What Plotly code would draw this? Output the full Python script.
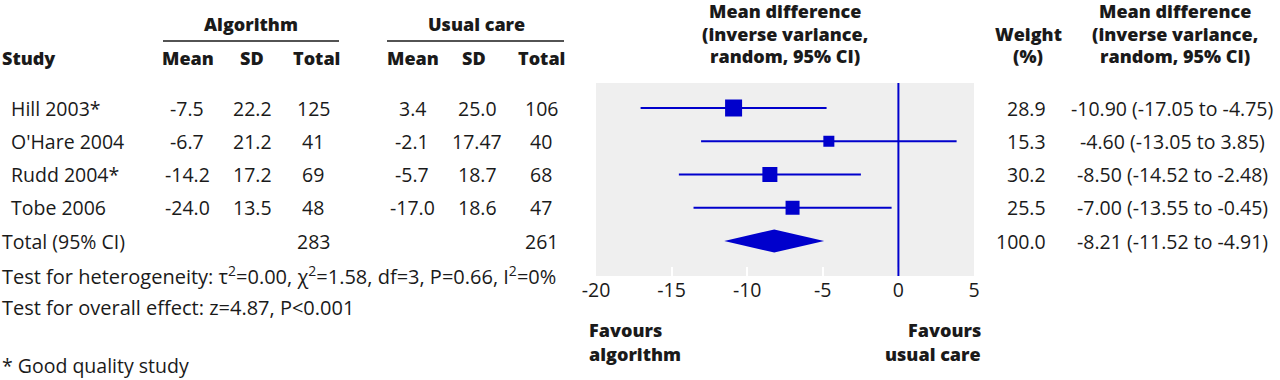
import plotly.graph_objects as go

# ---------------- data ----------------
studies = ["Hill 2003*", "O'Hare 2004", "Rudd 2004*", "Tobe 2006"]
alg_mean = ["-7.5", "-6.7", "-14.2", "-24.0"]
alg_sd = ["22.2", "21.2", "17.2", "13.5"]
alg_n = [125, 41, 69, 48]
uc_mean = ["3.4", "-2.1", "-5.7", "-17.0"]
uc_sd = ["25.0", "17.47", "18.7", "18.6"]
uc_n = [106, 40, 68, 47]
total_label = "Total (95% CI)"
alg_total_n = 283
uc_total_n = 261

md = [-10.90, -4.60, -8.50, -7.00]
ci_lo = [-17.05, -13.05, -14.52, -13.55]
ci_hi = [-4.75, 3.85, -2.48, -0.45]
weights = [28.9, 15.3, 30.2, 25.5]
total_md = -8.21
total_lo = -11.52
total_hi = -4.91
total_weight = 100.0

x_ticks = [-20, -15, -10, -5, 0, 5]

# ---------------- style ----------------
W, H = 1280, 380
BLUE = "#0000cc"
TXT = "#1a1a1a"
FONT = "Open Sans"
FS = 19.5
FSB = 18
square_px = [17, 11, 15, 14]   # marker sizes as drawn in the reference
ROW0, ROWH = 108, 33.25        # pixel y of first row, row spacing
PLOT_L, PLOT_R, PLOT_T, PLOT_B = 596, 974, 83, 276


def px_x(p):
    return p / W


def px_y(p):
    return 1 - p / H


y_top = (PLOT_T - ROW0) / ROWH
y_bot = (PLOT_B - ROW0) / ROWH

fig = go.Figure()

rows = list(range(len(studies)))
fig.add_trace(go.Scatter(
    x=md, y=rows, mode="markers",
    marker=dict(symbol="square", size=square_px, color=BLUE, opacity=1,
                line=dict(width=0)),
    error_x=dict(type="data", symmetric=False,
                 array=[h - m for h, m in zip(ci_hi, md)],
                 arrayminus=[m - l for m, l in zip(md, ci_lo)],
                 color=BLUE, thickness=2, width=0),
    hoverinfo="skip", showlegend=False,
))

tot_row = len(studies)
half_h = 11.5 / ROWH
fig.add_trace(go.Scatter(
    x=[total_lo, total_md, total_hi, total_md, total_lo],
    y=[tot_row, tot_row - half_h, tot_row, tot_row + half_h, tot_row],
    mode="lines", fill="toself", fillcolor=BLUE, line=dict(width=0, color=BLUE),
    hoverinfo="skip", showlegend=False,
))

fig.add_shape(type="line", x0=0, x1=0, xref="x", yref="y domain", y0=0, y1=1,
              line=dict(color=BLUE, width=2))

ann = []


def add(text, x, y, xanchor="left", bold=False, yref="paper", size=None):
    ann.append(dict(
        text=text, x=px_x(x), y=(px_y(y) if yref == "paper" else y),
        xref="paper", yref=yref, xanchor=xanchor, yanchor="middle",
        showarrow=False, align=xanchor if xanchor != "center" else "center",
        font=dict(family=FONT, size=size or (FSB if bold else FS), color=TXT,
                  weight=800 if bold else 400),
    ))


# headers
add("Algorithm", 251, 24, "center", True)
add("Usual care", 476, 24, "center", True)
add("Study", 0, 58, "left", True)
for lbl, cx in [("Mean", 188), ("SD", 252), ("Total", 316),
                ("Mean", 413), ("SD", 474), ("Total", 541)]:
    add(lbl, cx, 58, "center", True)
for i, line in enumerate(["Mean difference", "(inverse variance,", "random, 95% CI)"]):
    add(line, (PLOT_L + PLOT_R) / 2, 11 + 22.5 * i, "center", True)
    add(line, 1175, 11 + 22.5 * i, "center", True)
add("Weight", 1028, 33.5, "center", True)
add("(%)", 1028, 56, "center", True)

# rows
for i in rows:
    add(studies[i], 9, i, "left", yref="y")
    add(alg_mean[i], 187, i, "center", yref="y")
    add(alg_sd[i], 252, i, "center", yref="y")
    add(str(alg_n[i]), 313, i, "center", yref="y")
    add(uc_mean[i], 412, i, "center", yref="y")
    add(uc_sd[i], 477, i, "center", yref="y")
    add(str(uc_n[i]), 541, i, "center", yref="y")
    add(f"{weights[i]:.1f}", 1048, i, "right", yref="y")
    add(f"{md[i]:.2f} ({ci_lo[i]:.2f} to {ci_hi[i]:.2f})", 1172, i, "center", yref="y")

add(total_label, 0, tot_row, "left", yref="y")
add(str(alg_total_n), 313, tot_row, "center", yref="y")
add(str(uc_total_n), 541, tot_row, "center", yref="y")
add(f"{total_weight:.1f}", 1048, tot_row, "right", yref="y")
add(f"{total_md:.2f} ({total_lo:.2f} to {total_hi:.2f})", 1172, tot_row, "center", yref="y")

# footer
add("Test for heterogeneity: τ<sup>2</sup>=0.00, χ<sup>2</sup>=1.58, df=3, P=0.66, I<sup>2</sup>=0%",
    0, 275, "left", size=20)
add("Test for overall effect: z=4.87, P&lt;0.001", 0, 307, "left", size=20)
add("* Good quality study", 0, 365, "left")

add("Favours", 587, 330, "left", True)
add("algorithm", 587, 354, "left", True)
add("Favours", 983, 330, "right", True)
add("usual care", 983, 354, "right", True)

shapes_lines = [(163, 339), (387, 564)]
for x0, x1 in shapes_lines:
    fig.add_shape(type="line", xref="paper", yref="paper",
                  x0=px_x(x0), x1=px_x(x1), y0=px_y(41), y1=px_y(41),
                  line=dict(color=TXT, width=1.5))

fig.update_layout(
    width=W, height=H, autosize=False,
    margin=dict(l=0, r=0, t=0, b=0, autoexpand=False),
    paper_bgcolor="white", plot_bgcolor="#efefef",
    annotations=ann,
    font=dict(family=FONT, size=FS, color=TXT),
    xaxis=dict(domain=[px_x(PLOT_L), px_x(PLOT_R)], range=[-20, 5],
               tickvals=x_ticks, ticktext=[str(t) for t in x_ticks],
               ticks="inside", ticklen=9, tickwidth=2, tickcolor="white",
               showgrid=False, zeroline=False, showline=False,
               tickfont=dict(family=FONT, size=FS, color=TXT), fixedrange=True),
    yaxis=dict(domain=[px_y(PLOT_B), px_y(PLOT_T)], range=[y_bot, y_top],
               showticklabels=False, showgrid=False, zeroline=False,
               showline=False, ticks="", fixedrange=True),
)

fig.write_html("out.html", config={"displayModeBar": False},
               post_script="document.body.style.margin='0';")
